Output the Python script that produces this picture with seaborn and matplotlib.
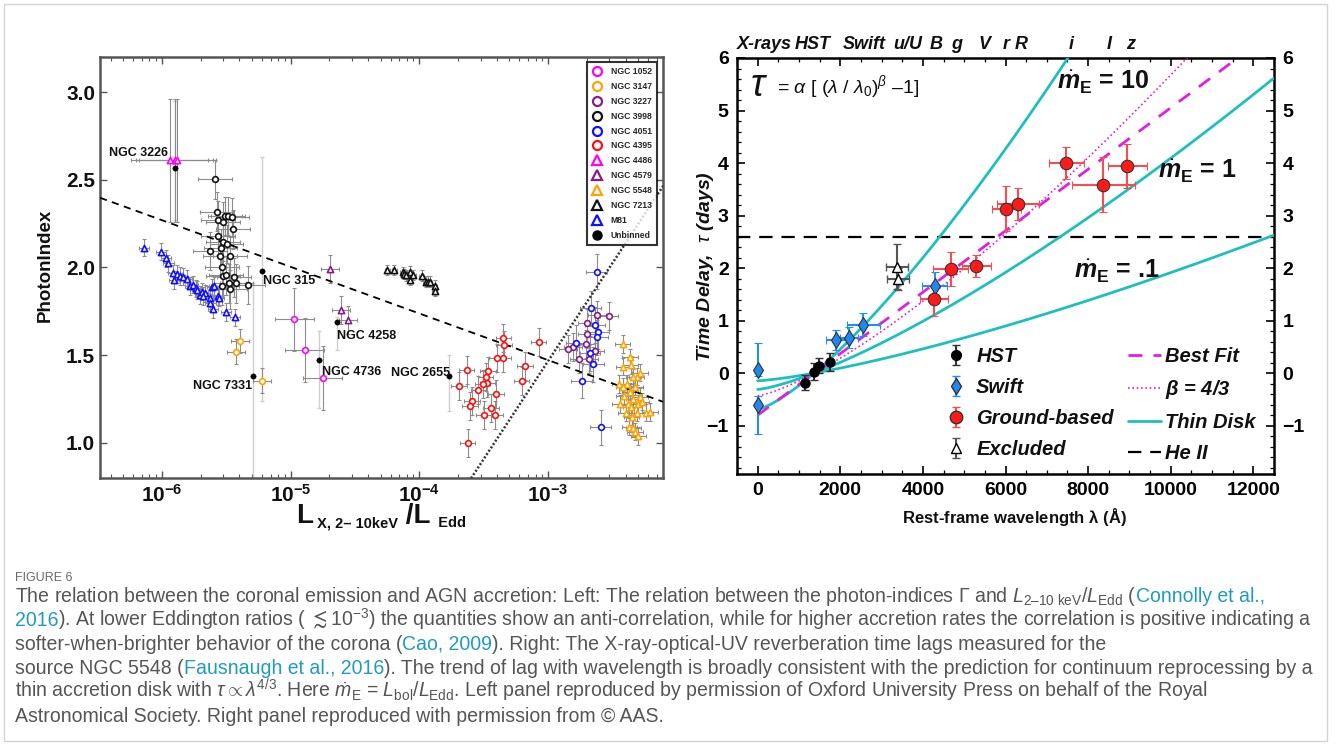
import numpy as np
import pandas as pd
import matplotlib
matplotlib.use('Agg')
import matplotlib.pyplot as plt
import matplotlib.transforms as mtransforms
import seaborn as sns
from matplotlib.lines import Line2D
from matplotlib.patches import Rectangle
from matplotlib.ticker import FixedLocator, LogLocator, MultipleLocator, NullFormatter

# ---------------------------------------------------------------- data (left)
# log10(L_X/L_Edd) and photon index for each source
n1052_lx = [-4.97, -4.89, -4.75]
n1052_g = [1.705, 1.53, 1.37]
n3147_lx = [-5.39, -5.42, -5.22]
n3147_g = [1.58, 1.52, 1.355]
n3227_lx = [-2.618, -2.524, -2.700, -2.695, -2.705, -2.804, -2.848, -2.636, -2.760, -2.680]
n3227_g = [1.731, 1.726, 1.686, 1.619, 1.564, 1.549, 1.534, 1.524, 1.479, 1.479]
n3998_lx = [-5.588, -5.570, -5.562, -5.510, -5.485, -5.451, -5.523, -5.446, -5.562, -5.523, -5.497, -5.627,
            -5.542, -5.549, -5.472, -5.534, -5.523, -5.503, -5.438, -5.531, -5.477, -5.420, -5.472, -5.329]
n3998_g = [2.503, 2.318, 2.271, 2.293, 2.293, 2.286, 2.261, 2.218, 2.181, 2.147, 2.134, 2.094,
           2.109, 2.067, 2.066, 2.005, 1.952, 1.956, 1.944, 1.896, 1.910, 1.910, 1.876, 1.900]
n4051_lx = [-2.622, -2.669, -2.636, -2.610, -2.618, -2.783, -2.674, -2.649, -2.739, -2.592]
n4051_g = [1.976, 1.767, 1.672, 1.634, 1.602, 1.572, 1.511, 1.448, 1.355, 1.089]
n4395_lx = [-3.348, -3.343, -3.395, -3.348, -3.073, -3.633, -3.465, -3.485, -3.690, -3.472, -3.508,
            -3.542, -3.180, -3.205, -3.405, -3.589, -3.607, -3.444, -3.498, -3.413, -3.625]
n4395_g = [1.597, 1.558, 1.483, 1.483, 1.577, 1.416, 1.412, 1.374, 1.325, 1.340, 1.334,
           1.302, 1.439, 1.353, 1.279, 1.241, 1.213, 1.198, 1.161, 1.158, 1.002]
n4486_lx = [-5.94, -5.90, -5.88]
n4486_g = [2.61, 2.61, 2.61]
n4579_lx = [-4.69, -4.61, -4.55]
n4579_g = [1.99, 1.76, 1.70]
n5548_lx = [-2.420, -2.364, -2.415, -2.359, -2.286, -2.312, -2.338, -2.389, -2.447, -2.415, -2.325,
            -2.364, -2.410, -2.286, -2.338, -2.441, -2.377, -2.299, -2.273, -2.359, -2.395, -2.312,
            -2.242, -2.208, -2.350, -2.369, -2.338, -2.325, -2.299]
n5548_g = [1.564, 1.488, 1.435, 1.443, 1.401, 1.378, 1.374, 1.336, 1.336, 1.321, 1.321,
           1.292, 1.268, 1.264, 1.249, 1.222, 1.222, 1.222, 1.235, 1.207, 1.173, 1.173,
           1.173, 1.177, 1.150, 1.093, 1.084, 1.064, 1.040]
n7213_lx = [-4.249, -4.195, -4.130, -4.115, -4.105, -4.073, -4.073, -4.047, -3.982, -3.949, -3.930,
            -3.918, -3.879, -3.879]
n7213_g = [1.986, 1.986, 1.972, 1.963, 1.955, 1.976, 1.929, 1.957, 1.953, 1.919, 1.919,
           1.919, 1.896, 1.868]
m81_lx = [-6.137, -6.008, -5.969, -5.948, -5.912, -5.907, -5.881, -5.860, -5.839, -5.808, -5.782,
          -5.757, -5.736, -5.726, -5.705, -5.684, -5.666, -5.679, -5.627, -5.622, -5.601, -5.562,
          -5.557, -5.609, -5.591, -5.503, -5.433]
m81_g = [2.113, 2.090, 2.052, 2.024, 1.967, 1.929, 1.963, 1.953, 1.948, 1.933, 1.895,
         1.902, 1.881, 1.872, 1.843, 1.862, 1.853, 1.838, 1.825, 1.800, 1.762, 1.838,
         1.828, 1.887, 1.896, 1.745, 1.716]
unb_lx = [-5.90, -5.29, -5.225, -4.64, -4.78, -3.77]
unb_g = [2.57, 1.38, 1.98, 1.69, 1.47, 1.38]
unb_ylo = [0.30, 0.58, 0.74, 0.16, 0.27, 0.20]
unb_yhi = [0.38, 0.53, 0.65, 0.03, 0.17, 0.12]
unb_names = ['NGC 3226', 'NGC 7331', 'NGC 315', 'NGC 4258', 'NGC 4736', 'NGC 2655']

# error sizes per source (dex in x, index units in y)
grp_xerr = {'NGC 1052': 0.15, 'NGC 3147': 0.07, 'NGC 3227': 0.07, 'NGC 3998': 0.13,
            'NGC 4051': 0.08, 'NGC 4395': 0.06, 'NGC 4486': 0.3, 'NGC 4579': 0.07,
            'NGC 5548': 0.06, 'NGC 7213': 0.02, 'M81': 0.04}
grp_yerr = {'NGC 1052': 0.18, 'NGC 3147': 0.07, 'NGC 3227': 0.08, 'NGC 3998': 0.11,
            'NGC 4051': 0.10, 'NGC 4395': 0.08, 'NGC 4486': 0.35, 'NGC 4579': 0.08,
            'NGC 5548': 0.05, 'NGC 7213': 0.03, 'M81': 0.05}

# fitted relations  Gamma = a + b log10(L/LEdd)
anti_a, anti_b = 0.674, -0.266
pos_a, pos_b = 4.817, 1.117

# ---------------------------------------------------------------- data (right)
hst_lam = [1158, 1367, 1479, 1746]
hst_tau = [-0.18, 0.03, 0.14, 0.21]
hst_err = [0.15, 0.16, 0.14, 0.17]
swift_lam = [0, 0, 1895, 2210, 2557, 4285]
swift_tau = [0.06, -0.61, 0.63, 0.67, 0.92, 1.65]
swift_elo = [0.12, 0.54, 0.19, 0.19, 0.22, 0.27]
swift_ehi = [0.52, 0.17, 0.19, 0.20, 0.22, 0.27]
swift_xerr = [0, 0, 250, 220, 400, 310]
gb_lam = [4276, 4671, 5287, 6023, 6299, 7476, 8368, 8947]
gb_tau = [1.41, 1.99, 2.04, 3.12, 3.22, 4.00, 3.59, 3.94]
gb_xerr = [340, 420, 350, 360, 515, 415, 770, 475]
gb_elo = [0.32, 0.33, 0.21, 0.41, 0.30, 0.30, 0.53, 0.42]
gb_ehi = [0.26, 0.32, 0.21, 0.44, 0.30, 0.30, 0.52, 0.42]
ex_lam = [3384, 3402]
ex_tau = [2.03, 1.80]
ex_xerr = [265, 265]
ex_err = [0.42, 0.21]

lam0 = 1367.0
fit_alpha, fit_beta = 0.80, 1.0
b43_alpha, b43_beta = 0.43, 4.0 / 3.0
disk_mdot = [10, 1, 0.1]
disk_alpha = [0.69, 0.31, 0.145]
heii_tau = 2.6

band_labels = ['X-rays', 'HST', 'Swift', 'u/U', 'B', 'g', 'V', 'r', 'R', 'i', 'I', 'z']
band_lam = [150, 1340, 2590, 3630, 4330, 4815, 5490, 6025, 6390, 7580, 8520, 9030]

# ---------------------------------------------------------------- style
sns.set_theme(style='ticks')
FONT = 'Liberation Sans'
plt.rcParams['font.family'] = [FONT, 'DejaVu Sans']
plt.rcParams['font.weight'] = 'bold'
plt.rcParams['mathtext.fontset'] = 'custom'
plt.rcParams['mathtext.rm'] = FONT + ':weight=normal'
plt.rcParams['mathtext.it'] = FONT + ':style=italic:weight=normal'
plt.rcParams['mathtext.bf'] = FONT + ':weight=bold'
plt.rcParams['mathtext.bfit'] = FONT + ':style=italic:weight=bold'
plt.rcParams['mathtext.sf'] = FONT + ':weight=normal'
plt.rcParams['axes.unicode_minus'] = True

W, H = 1338, 744
fig = plt.figure(figsize=(W / 100, H / 100), dpi=100)
fig.patch.set_facecolor('white')
fig.add_artist(Rectangle((4 / W, 3 / H), 1323 / W, 737 / H, transform=fig.transFigure,
                         fill=False, edgecolor='#d4d4d4', lw=1.0))
renderer = fig.canvas.get_renderer()


def draw_pieces(pieces, cx_px, base_px, color='#111111', weight='bold'):
    """Draw text pieces (text, size, dy_px) side by side, centred at cx_px."""
    x = 0.0
    arts = []
    for s, sz, dy in pieces:
        t = fig.text(x / W, 1 - (base_px + dy) / H, s, fontsize=sz, fontweight=weight,
                     va='baseline', ha='left', color=color)
        x = t.get_window_extent(renderer=renderer).x1
        arts.append(t)
    shift = cx_px - x / 2
    for t in arts:
        px, py = t.get_position()
        t.set_x(px + shift / W)
    return arts


# ================================================================= left panel
axL = fig.add_axes([100 / W, 1 - 478 / H, 563 / W, 421 / H])
axL.set_facecolor('white')
axL.set_xscale('log')

groups = [
    ('NGC 1052', 'o', '#ff00ff', n1052_lx, n1052_g),
    ('NGC 3147', 'o', '#ffa500', n3147_lx, n3147_g),
    ('NGC 3227', 'o', '#8b1a8b', n3227_lx, n3227_g),
    ('NGC 3998', 'o', '#111111', n3998_lx, n3998_g),
    ('NGC 4051', 'o', '#1010ff', n4051_lx, n4051_g),
    ('NGC 4395', 'o', '#ff1010', n4395_lx, n4395_g),
    ('NGC 4486', '^', '#ff00ff', n4486_lx, n4486_g),
    ('NGC 4579', '^', '#8b1a8b', n4579_lx, n4579_g),
    ('NGC 5548', '^', '#ffa500', n5548_lx, n5548_g),
    ('NGC 7213', '^', '#111111', n7213_lx, n7213_g),
    ('M81', '^', '#1010ff', m81_lx, m81_g),
]

# error bars first
for name, mk, col, lx, g in groups:
    lx = np.array(lx); g = np.array(g)
    x = 10 ** lx
    dx = grp_xerr[name]
    axL.errorbar(x, g, xerr=[x - 10 ** (lx - dx), 10 ** (lx + dx) - x], yerr=grp_yerr[name],
                 fmt='none', ecolor='#8c8c8c', elinewidth=0.8, capsize=1.5, capthick=0.8, zorder=2)
ux = 10 ** np.array(unb_lx)
axL.errorbar(ux, unb_g, yerr=[unb_ylo, unb_yhi], fmt='none', ecolor='#cfcfcf', elinewidth=1.0,
             capsize=1.5, zorder=1.5)

# regression lines
xx = np.logspace(-6.48, -2.107, 50)
sns.lineplot(x=xx, y=anti_a + anti_b * np.log10(xx), ax=axL, color='black', lw=1.3, zorder=4)
axL.lines[-1].set_dashes([4, 3])
xx2 = np.logspace(-3.7, -2.0, 50)
sns.lineplot(x=xx2, y=pos_a + pos_b * np.log10(xx2), ax=axL, color='#333333', lw=1.8, zorder=4)
axL.lines[-1].set_dashes([0.8, 0.8])

# markers
for name, mk, col, lx, g in groups:
    df = pd.DataFrame({'x': 10 ** np.array(lx), 'y': g})
    sns.scatterplot(data=df, x='x', y='y', ax=axL, marker=mk, s=20 if mk == '^' else 17,
                    legend=False, zorder=5)
    coll = axL.collections[-1]
    coll.set_facecolor('white')
    coll.set_edgecolor(col)
    coll.set_linewidth(1.2)
dfu = pd.DataFrame({'x': ux, 'y': unb_g})
sns.scatterplot(data=dfu, x='x', y='y', ax=axL, marker='o', s=15, legend=False, zorder=6)
axL.collections[-1].set_facecolor('black')
axL.collections[-1].set_edgecolor('black')

# source labels
lab_pos = {'NGC 3226': (10 ** -5.953, 2.652, 'right'), 'NGC 315': (10 ** -5.215, 1.923, 'left'),
           'NGC 4258': (10 ** -4.64, 1.61, 'left'), 'NGC 4736': (10 ** -4.757, 1.406, 'left'),
           'NGC 7331': (10 ** -5.30, 1.327, 'right'), 'NGC 2655': (10 ** -3.762, 1.40, 'right')}
for nm in unb_names:
    x0, y0, ha = lab_pos[nm]
    axL.text(x0, y0, nm, fontsize=9, fontweight='bold', ha=ha, va='center', color='#111111', zorder=7)

axL.set_xlim(10 ** -6.48, 10 ** -2.107)
axL.set_ylim(0.8, 3.2)
axL.xaxis.set_major_locator(FixedLocator([1e-6, 1e-5, 1e-4, 1e-3]))
axL.set_xticklabels([r'$\mathbf{10}^{\mathbf{-6}}$', r'$\mathbf{10}^{\mathbf{-5}}$',
                     r'$\mathbf{10}^{\mathbf{-4}}$', r'$\mathbf{10}^{\mathbf{-3}}$'])
axL.xaxis.set_minor_locator(LogLocator(base=10, subs=np.arange(2, 10), numticks=20))
axL.xaxis.set_minor_formatter(NullFormatter())
axL.yaxis.set_major_locator(FixedLocator([1.0, 1.5, 2.0, 2.5, 3.0]))
axL.set_yticklabels(['1.0', '1.5', '2.0', '2.5', '3.0'])
axL.tick_params(axis='both', which='both', direction='in', top=True, right=True, colors='#555555')
axL.tick_params(axis='both', which='major', length=5, width=1.0, labelsize=15, labelcolor='#111111')
axL.tick_params(axis='x', which='major', pad=4, labelsize=15)
axL.tick_params(axis='both', which='minor', length=3, width=0.8)
for sp in axL.spines.values():
    sp.set_color('#555555'); sp.set_linewidth(1.8)
axL.set_xlabel(''); axL.set_ylabel('')
fig.text(45 / W, 1 - 265 / H, 'PhotonIndex', rotation=90, ha='center', va='center', fontsize=13.5,
         fontweight='bold', color='#111111')
draw_pieces([('L', 20, 0), (' X, 2– 10keV', 10.5, 4), (' /L', 20, 0), ('  Edd', 10.5, 4)], 381, 523)

leg_handles = []
for name, mk, col, lx, g in groups:
    leg_handles.append(Line2D([], [], ls='none', marker=mk, mfc='white', mec=col, mew=1.6, ms=6.5,
                              label=name))
leg_handles.append(Line2D([], [], ls='none', marker='o', mfc='black', mec='black', ms=6.5, label='Unbinned'))
legL = axL.legend(handles=leg_handles, loc='upper right', bbox_to_anchor=(0.989, 0.988), fontsize=6.2,
                  frameon=True, fancybox=False, borderpad=0.6, labelspacing=0.68, handlelength=1.0,
                  handletextpad=1.1, borderaxespad=0)
legL.get_frame().set_edgecolor('black')
legL.get_frame().set_linewidth(1.5)
legL.set_zorder(10)
for t in legL.get_texts():
    t.set_fontweight('bold')

# ================================================================= right panel
axR = fig.add_axes([737 / W, 1 - 474 / H, 537 / W, 416 / H])
axR.set_facecolor('white')
lam = np.linspace(0, 12600, 400)

# He II
axR.axhline(heii_tau, color='black', lw=1.6, dashes=[6, 4], zorder=2)
# thin disk
for a in disk_alpha:
    sns.lineplot(x=lam, y=a * ((lam / lam0) ** (4 / 3) - 1), ax=axR, color='#1fbfbf', lw=2.0, zorder=3)
# beta = 4/3
sns.lineplot(x=lam, y=b43_alpha * ((lam / lam0) ** b43_beta - 1), ax=axR, color='#e020e0', lw=1.2, zorder=3)
axR.lines[-1].set_dashes([1, 1.6])
# best fit
sns.lineplot(x=lam, y=fit_alpha * ((lam / lam0) ** fit_beta - 1), ax=axR, color='#e020e0', lw=2.0, zorder=3)
axR.lines[-1].set_dashes([5, 4])

axR.errorbar(ex_lam, ex_tau, xerr=ex_xerr, yerr=ex_err, fmt='^', mfc='white', mec='black', mew=1.0, ms=7,
             ecolor='#555555', elinewidth=1.5, capsize=3, zorder=5)
axR.errorbar(hst_lam, hst_tau, yerr=hst_err, fmt='o', mfc='black', mec='black', ms=6.5,
             ecolor='#333333', elinewidth=1.5, capsize=3, zorder=5)
axR.errorbar(swift_lam, swift_tau, xerr=swift_xerr, yerr=[swift_elo, swift_ehi], fmt='d', mfc='#1e88f0',
             mec='#333333', mew=0.8, ms=8, ecolor='#2090f0', elinewidth=1.5, capsize=3, zorder=5)
axR.errorbar(gb_lam, gb_tau, xerr=gb_xerr, yerr=[gb_elo, gb_ehi], fmt='o', mfc='#ff1a1a', mec='#333333',
             mew=0.8, ms=9, ecolor='#f25050', elinewidth=1.5, capsize=3, zorder=5)

axR.set_xlim(-500, 12500)
axR.set_ylim(-1.92, 6.0)
axR.xaxis.set_major_locator(MultipleLocator(2000))
axR.xaxis.set_minor_locator(MultipleLocator(500))
axR.yaxis.set_major_locator(MultipleLocator(1))
axR.yaxis.set_minor_locator(MultipleLocator(0.2))
axR.tick_params(axis='both', which='both', direction='in', top=True, right=True, labelright=True,
                colors='black')
axR.tick_params(axis='both', which='major', length=6, width=1.2, labelsize=14, pad=6)
axR.tick_params(axis='both', which='minor', length=3, width=0.9)
for sp in axR.spines.values():
    sp.set_color('black'); sp.set_linewidth(1.8)
axR.set_xlabel(''); axR.set_ylabel('')

# band labels across the top
tr = mtransforms.blended_transform_factory(axR.transData, axR.transAxes)
for lb, lm in zip(band_labels, band_lam):
    axR.text(lm, 1.033, lb, transform=tr, ha='center', va='center', fontsize=13,
             fontweight='bold', fontstyle='italic', color='#111111')

# formula and accretion-rate labels
axR.text(0.024, 0.933, r'$\tau$', transform=axR.transAxes, fontsize=27, ha='left', va='center',
         fontweight='normal', color='#111111', family='DejaVu Serif', fontstyle='italic')
axR.text(0.075, 0.930, r'= $\alpha$ [ ($\lambda$ / $\lambda_0$)$^\beta$ –1]', transform=axR.transAxes,
         fontsize=14, ha='left', va='center', fontweight='normal', color='#111111')
mlabels = [(r'$\dot{\mathbfit{m}}_{\mathbf{E}}$ = 10', 0.682, 0.942),
           (r'$\dot{\mathbfit{m}}_{\mathbf{E}}$ = 1', 0.857, 0.726),
           (r'$\dot{\mathbfit{m}}_{\mathbf{E}}$ = .1', 0.708, 0.486)]
for s, xa, ya in mlabels:
    axR.text(xa, ya, s, transform=axR.transAxes, fontsize=18, ha='center', va='center',
             fontweight='bold', color='#111111')

# legend
nanx = [np.nan]
hh = axR.errorbar(nanx, nanx, yerr=[0.3], fmt='o', mfc='black', mec='black', ms=7, ecolor='#333333',
                  elinewidth=1.5, capsize=3, label='HST')
hs = axR.errorbar(nanx, nanx, yerr=[0.3], fmt='d', mfc='#1e88f0', mec='#333333', ms=8, ecolor='#2090f0',
                  elinewidth=1.5, capsize=3, label='Swift')
hg = axR.errorbar(nanx, nanx, yerr=[0.3], fmt='o', mfc='#ff1a1a', mec='#333333', ms=9, ecolor='#f25050',
                  elinewidth=1.5, capsize=3, label='Ground-based')
he = axR.errorbar(nanx, nanx, yerr=[0.3], fmt='^', mfc='white', mec='black', ms=7, ecolor='#555555',
                  elinewidth=1.5, capsize=3, label='Excluded')
l1 = Line2D([], [], color='#e020e0', lw=2.0, dashes=[5, 4], label='Best Fit')
l2 = Line2D([], [], color='#e020e0', lw=1.2, dashes=[1, 1.6], label=r'$\mathbfit{\beta}$ = 4/3')
l3 = Line2D([], [], color='#1fbfbf', lw=2.0, label='Thin Disk')
l4 = Line2D([], [], color='black', lw=1.6, dashes=[6, 4], label='He II')
legR = axR.legend(handles=[hh, hs, hg, he, l1, l2, l3, l4], ncol=2, loc='upper left',
                  bbox_to_anchor=(0.376, 0.306), frameon=False, fontsize=14.5, borderpad=0,
                  labelspacing=0.6, handlelength=1.65, handletextpad=0.2, columnspacing=0.7,
                  borderaxespad=0)
for t in legR.get_texts():
    t.set_fontweight('bold'); t.set_fontstyle('italic'); t.set_color('#111111')

fig.text(705 / W, 1 - 267 / H, r'Time Delay,  $\tau$ (days)', rotation=90, ha='center', va='center',
         fontsize=14, fontweight='bold', fontstyle='italic', color='#111111')
fig.text(1014 / W, 1 - 517 / H, r'Rest-frame wavelength $\mathbf{\lambda}$ (Å)', ha='center', va='center',
         fontsize=12, fontweight='bold', color='#111111')

# ================================================================= caption
CAP_GRAY = '#555555'
CAP_LINK = '#1f9cbf'
caption_lines = [
    [(r'The relation between the coronal emission and AGN accretion: Left: The relation between the '
      r'photon-indices $\Gamma$ and $L_{\mathrm{2–10\ keV}}/L_{\mathrm{Edd}}$ (', CAP_GRAY),
     ('Connolly et al.,', CAP_LINK)],
    [('2016', CAP_LINK),
     (r'). At lower Eddington ratios ( $\lesssim$10$^{-3}$) the quantities show an anti-correlation, while '
      r'for higher accretion rates the correlation is positive indicating a', CAP_GRAY)],
    [('softer-when-brighter behavior of the corona (', CAP_GRAY), ('Cao, 2009', CAP_LINK),
     ('). Right: The X-ray-optical-UV reverberation time lags measured for the', CAP_GRAY)],
    [('source NGC 5548 (', CAP_GRAY), ('Fausnaugh et al., 2016', CAP_LINK),
     ('). The trend of lag with wavelength is broadly consistent with the prediction for continuum '
      'reprocessing by a', CAP_GRAY)],
    [(r'thin accretion disk with $\tau \propto \lambda^{4/3}$. Here $\dot{m}_{\mathrm{E}}$ = '
      r'$L_{\mathrm{bol}}/L_{\mathrm{Edd}}$. Left panel reproduced by permission of Oxford University '
      r'Press on behalf of the Royal', CAP_GRAY)],
    [('Astronomical Society. Right panel reproduced with permission from © AAS.', CAP_GRAY)],
]
cap_base = [602, 626, 650, 674, 698, 722]


def draw_run(pieces, x_px, base_px, size):
    x = x_px
    arts = []
    for s, c in pieces:
        t = fig.text(x / W, 1 - base_px / H, s, color=c, fontsize=size, fontweight='normal',
                     va='baseline', ha='left', family=[FONT, 'DejaVu Sans'])
        x = t.get_window_extent(renderer=renderer).x1
        arts.append(t)
    return arts, x


test_arts, xend = draw_run(caption_lines[3], 15, 674, 10)
cap_size = 10 * (1316 - 15) / (xend - 15)
for t in test_arts:
    t.remove()
for pieces, yb in zip(caption_lines, cap_base):
    draw_run(pieces, 15, yb, cap_size)

fig.text(15 / W, 1 - 581 / H, 'FIGURE 6', fontsize=9, color='#6a6a6a', fontweight='normal',
         ha='left', va='baseline')

fig.savefig('out.png', dpi=100)
